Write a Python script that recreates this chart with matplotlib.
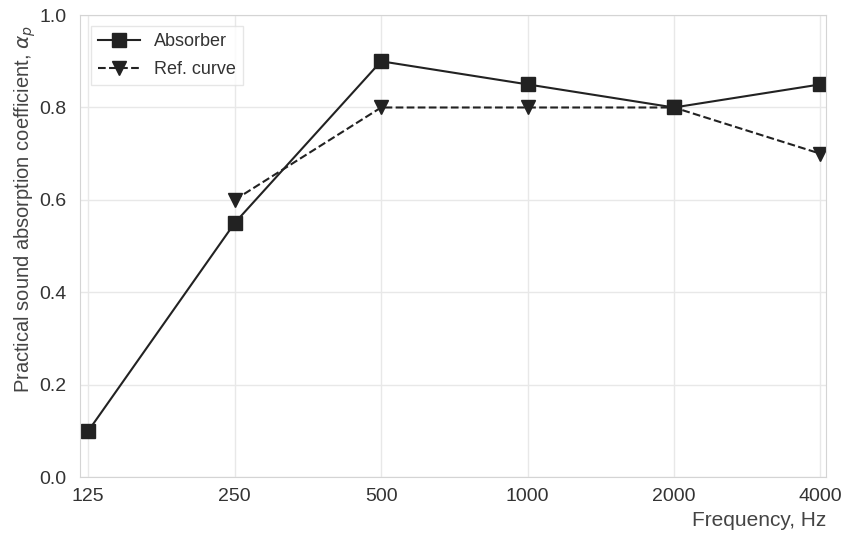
import matplotlib
matplotlib.use("Agg")
import matplotlib.pyplot as plt

freqs = [125, 250, 500, 1000, 2000, 4000]
freq_labels = ["125", "250", "500", "1000", "2000", "4000"]
absorber = [0.10, 0.55, 0.90, 0.85, 0.80, 0.85]
ref_freqs = [250, 500, 1000, 2000, 4000]
ref_curve = [0.60, 0.80, 0.80, 0.80, 0.70]

plt.rcParams['font.family'] = ['Liberation Sans', 'DejaVu Sans']
fig = plt.figure(figsize=(8.44, 5.38), dpi=100)
ax = fig.add_axes([0.095, 0.113, 0.884, 0.859])

ax.plot(freqs, absorber, color='#222222', lw=1.5, marker='s', ms=10.5, label='Absorber')
ax.plot(ref_freqs, ref_curve, color='#222222', lw=1.5, ls='--', marker='v', ms=10.5, label='Ref. curve')

ax.set_xscale('log', base=2)
ax.set_xlim(125 * 2 ** -0.055, 4000 * 2 ** 0.04)
ax.set_ylim(0, 1.0)
ax.set_xticks(freqs)
ax.set_xticklabels(freq_labels)
ax.minorticks_off()
ax.set_yticks([0.0, 0.2, 0.4, 0.6, 0.8, 1.0])
ax.set_yticklabels(["0.0", "0.2", "0.4", "0.6", "0.8", "1.0"])
ax.grid(True, color='#e8e8e8', lw=1)
for s in ax.spines.values():
    s.set_color('#d4d4d4')
ax.tick_params(axis='x', length=0, labelsize=14, colors='#333333', pad=8)
ax.tick_params(axis='y', length=0, labelsize=14, colors='#333333', pad=10)

ax.set_xlabel('Frequency, Hz', fontsize=15, color='#444444', loc='right', labelpad=4)
ax.set_ylabel(r'Practical sound absorption coefficient, $\alpha_p$', fontsize=14.5, color='#444444')
ax.yaxis.set_label_coords(-0.056, 0.58)

leg = ax.legend(loc='upper left', fontsize=13, frameon=True, fancybox=False,
                edgecolor='#e0e0e0', handlelength=2.3, borderaxespad=0.6,
                labelspacing=0.6)
for t in leg.get_texts():
    t.set_color('#333333')

fig.savefig('out.png', dpi=100)
